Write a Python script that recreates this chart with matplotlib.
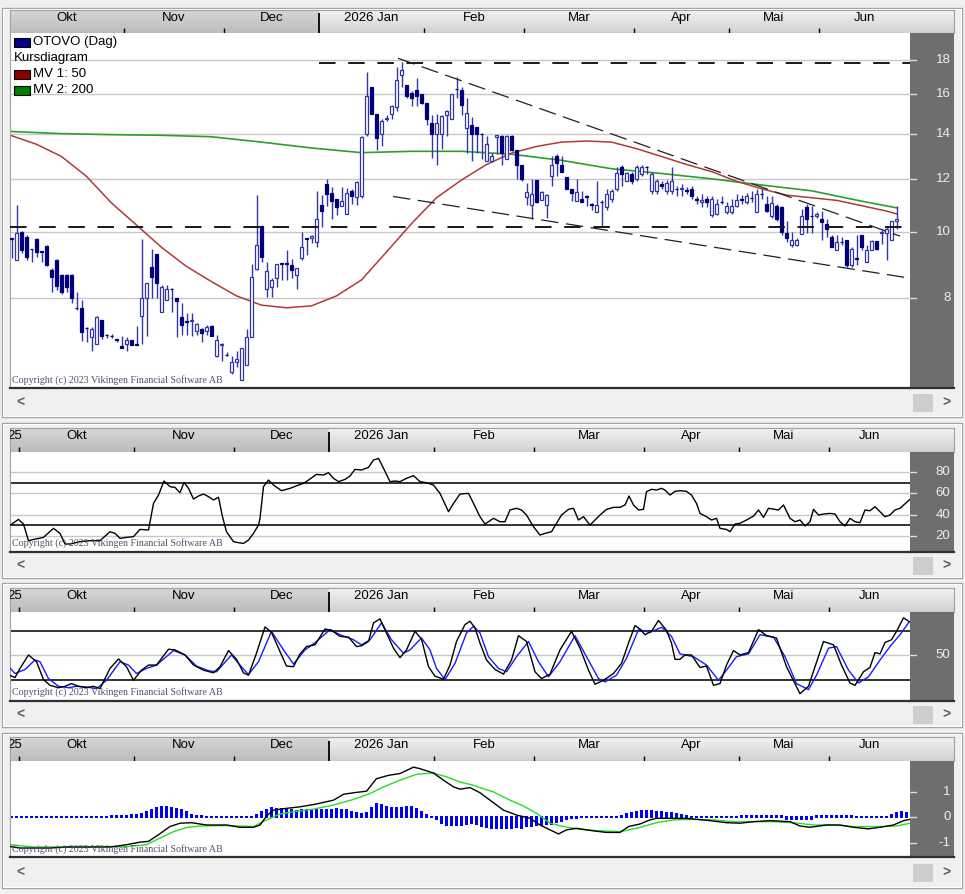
import numpy as np
import matplotlib.pyplot as plt
from matplotlib.patches import Rectangle
from matplotlib.transforms import blended_transform_factory

plt.rcParams['font.family'] = ['Liberation Sans', 'DejaVu Sans']

W, H = 965, 894

# x axis = trading day index, 0 = first trading day of October 2025
months = ["Okt", "Nov", "Dec", "2026 Jan", "Feb", "Mar", "Apr", "Mai", "Jun"]
month_start = [0, 23, 43, 62, 83, 103, 125, 144, 162]
year_start = 62

# ---- OTOVO daily candles ----
opens = [9.80, 9.09, 10.00, 9.84, 9.45, 9.78, 9.37, 9.54, 8.79, 9.11,
         8.65, 8.65, 8.65, 7.73, 7.73, 7.22, 7.00, 6.83, 7.41, 7.05,
         7.03, 6.94, 6.78, 6.83, 6.92, 6.83, 7.52, 8.00, 8.88, 9.28,
         7.63, 7.95, 8.25, 7.98, 7.50, 7.38, 7.38, 7.13, 7.18, 7.13,
         7.27, 6.55, 6.81, 6.59, 6.22, 6.43, 6.05, 6.37, 7.00, 8.81,
         10.22, 8.25, 8.30, 8.55, 9.00, 9.00, 8.94, 8.65, 9.15, 9.80,
         9.80, 9.66, 10.98, 11.80, 11.44, 11.20, 10.95, 10.65, 11.50, 11.26,
         11.30, 13.98, 16.40, 14.97, 14.00, 14.70, 14.97, 15.35, 17.10, 16.50,
         16.10, 16.25, 16.00, 15.55, 14.50, 14.00, 14.00, 14.90, 14.74, 16.30,
         16.25, 14.27, 14.40, 14.30, 14.00, 12.76, 12.76, 13.85, 13.90, 12.85,
         13.90, 13.25, 12.60, 11.26, 10.98, 11.96, 11.18, 10.98, 12.10, 12.95,
         12.60, 12.06, 11.60, 11.14, 11.20, 11.30, 11.00, 10.70, 11.10, 10.90,
         11.20, 11.60, 12.50, 11.90, 12.20, 12.00, 12.20, 12.50, 11.50, 11.50,
         11.80, 11.50, 11.50, 11.60, 11.60, 11.55, 11.60, 11.20, 11.10, 11.20,
         10.60, 10.65, 11.10, 10.70, 10.70, 10.95, 11.20, 11.10, 11.25, 10.70,
         11.40, 11.00, 10.58, 10.95, 10.90, 9.97, 9.57, 9.57, 9.95, 10.89,
         10.58, 10.58, 10.46, 10.28, 9.84, 9.41, 9.68, 9.73, 8.94, 9.15,
         9.90, 9.04, 9.41, 9.71, 9.98, 9.97, 9.73, 10.40]
closes = [9.78, 9.97, 9.41, 9.18, 9.43, 9.36, 9.35, 8.94, 8.59, 8.33,
          8.17, 8.30, 8.00, 7.72, 7.11, 7.21, 7.20, 7.50, 7.03, 7.04,
          7.02, 6.93, 6.75, 6.92, 6.80, 6.82, 8.00, 8.40, 8.60, 8.40,
          8.30, 8.25, 8.24, 7.90, 7.30, 7.37, 7.42, 7.32, 7.09, 7.25,
          7.03, 6.92, 6.84, 6.58, 6.43, 6.49, 6.73, 7.00, 8.60, 9.57,
          9.18, 8.76, 8.50, 8.97, 8.99, 8.99, 8.79, 8.84, 9.50, 9.76,
          9.86, 10.47, 10.76, 11.40, 11.14, 10.90, 11.14, 11.44, 11.30, 11.88,
          13.84, 15.90, 14.97, 13.80, 14.60, 14.76, 15.40, 16.80, 17.40, 15.90,
          15.80, 15.90, 15.55, 14.74, 14.00, 14.50, 14.86, 15.10, 16.00, 16.28,
          15.45, 15.00, 14.00, 14.00, 13.98, 13.50, 12.95, 13.92, 13.10, 13.90,
          13.25, 12.60, 12.00, 11.48, 11.40, 11.07, 11.48, 11.37, 12.60, 12.67,
          12.30, 11.60, 11.45, 11.48, 11.10, 11.28, 10.98, 10.98, 11.08, 11.40,
          11.50, 12.25, 12.20, 12.25, 11.90, 12.50, 12.50, 12.48, 12.20, 11.90,
          11.70, 11.85, 11.90, 11.58, 11.62, 11.53, 11.30, 11.18, 11.15, 11.10,
          11.20, 11.00, 11.08, 10.95, 10.95, 11.15, 11.18, 11.30, 11.23, 11.40,
          11.38, 10.77, 11.05, 10.46, 10.00, 9.80, 9.73, 9.73, 10.58, 10.46,
          10.56, 10.64, 10.34, 10.10, 9.52, 9.68, 9.66, 8.94, 9.46, 9.13,
          9.52, 9.41, 9.71, 9.46, 10.00, 10.12, 10.40, 10.46]
highs = [9.82, 10.98, 10.05, 9.90, 9.46, 9.80, 9.38, 9.56, 8.84, 9.12,
         8.66, 8.68, 8.66, 8.16, 7.95, 7.23, 7.25, 7.52, 7.42, 7.08,
         7.06, 6.96, 7.03, 7.00, 6.93, 7.27, 9.76, 8.40, 9.44, 9.30,
         8.36, 8.36, 8.26, 7.99, 7.87, 7.60, 7.60, 7.35, 7.22, 7.30,
         7.28, 7.05, 6.85, 6.65, 6.55, 6.67, 6.73, 7.18, 8.97, 11.37,
         10.22, 9.03, 8.55, 8.97, 9.01, 9.41, 9.12, 8.84, 10.00, 9.82,
         9.90, 11.52, 11.37, 12.00, 11.68, 11.20, 11.68, 11.64, 11.60, 11.90,
         13.90, 17.26, 16.40, 14.97, 14.74, 14.90, 15.46, 17.60, 17.90, 16.50,
         16.20, 16.90, 16.00, 15.55, 14.90, 14.95, 14.90, 15.15, 16.05, 17.00,
         16.40, 15.80, 14.80, 14.30, 14.05, 13.90, 13.10, 13.95, 13.95, 13.95,
         13.95, 13.25, 12.60, 11.84, 12.00, 11.96, 11.50, 11.40, 12.95, 13.05,
         12.95, 12.06, 11.60, 12.00, 11.50, 11.35, 11.05, 11.90, 11.15, 11.60,
         11.60, 12.50, 12.60, 12.30, 12.30, 12.60, 12.60, 12.55, 12.30, 12.00,
         11.90, 11.95, 12.50, 11.70, 11.80, 11.65, 11.70, 11.30, 11.40, 11.30,
         11.30, 11.20, 11.30, 11.10, 11.20, 11.40, 11.35, 11.45, 11.50, 11.60,
         11.60, 11.30, 11.30, 11.00, 10.95, 10.40, 10.00, 9.80, 10.82, 11.02,
         10.95, 10.70, 10.76, 10.46, 9.90, 9.90, 9.84, 9.73, 9.50, 9.90,
         9.90, 9.57, 9.75, 9.71, 10.07, 10.17, 10.40, 10.95]
lows = [9.15, 9.09, 9.31, 9.09, 9.03, 9.20, 9.03, 8.90, 8.16, 8.22,
        8.10, 8.15, 7.86, 7.68, 6.90, 6.87, 6.67, 6.83, 6.94, 6.98,
        6.98, 6.87, 6.75, 6.67, 6.80, 6.80, 6.83, 7.03, 8.00, 8.00,
        7.63, 7.93, 7.63, 7.00, 7.05, 7.05, 7.02, 7.05, 6.87, 7.05,
        7.03, 6.53, 6.45, 6.55, 6.17, 6.31, 6.05, 6.37, 7.00, 8.80,
        9.03, 8.03, 8.03, 8.30, 8.50, 8.50, 8.55, 8.25, 9.10, 9.25,
        9.65, 9.50, 10.17, 10.95, 10.47, 10.60, 10.95, 10.65, 11.00, 10.98,
        11.25, 13.90, 14.95, 13.25, 13.40, 14.60, 14.74, 15.10, 16.40, 15.80,
        15.40, 15.40, 15.50, 14.40, 12.90, 12.60, 13.30, 13.90, 14.70, 15.80,
        14.90, 13.10, 12.76, 13.10, 12.85, 12.76, 12.70, 13.05, 12.60, 12.85,
        13.20, 12.00, 11.90, 10.98, 10.47, 11.05, 11.15, 10.50, 11.70, 12.10,
        12.30, 11.60, 11.14, 11.14, 11.10, 10.95, 10.80, 10.70, 10.20, 10.80,
        11.10, 11.50, 11.70, 11.90, 11.80, 11.90, 12.10, 12.20, 11.40, 11.40,
        11.60, 11.40, 11.40, 11.30, 11.30, 11.40, 11.20, 11.00, 10.90, 10.90,
        10.55, 10.60, 11.00, 10.65, 10.65, 10.90, 11.00, 11.00, 11.10, 10.70,
        11.20, 10.70, 10.50, 10.40, 9.90, 9.68, 9.52, 9.55, 9.95, 9.97,
        9.97, 10.50, 9.73, 9.84, 9.50, 9.41, 9.57, 8.89, 8.87, 8.94,
        9.41, 9.04, 9.41, 9.40, 9.60, 9.09, 9.73, 10.12]

# moving averages (read every 5 days)
ma50_day = [0, 5, 10, 15, 20, 25, 30, 35, 40, 45, 50, 55, 60, 65, 70, 75, 80, 85,
            90, 95, 100, 105, 110, 115, 120, 125, 130, 135, 140, 145, 150, 155,
            160, 165, 170, 175, 177]
ma50 = [13.9, 13.5, 12.95, 12.1, 11.05, 10.25, 9.5, 8.9, 8.45, 8.05, 7.8, 7.73,
        7.78, 8.05, 8.5, 9.35, 10.3, 11.25, 11.95, 12.6, 13.1, 13.4, 13.6, 13.65,
        13.6, 13.3, 12.95, 12.6, 12.3, 11.9, 11.6, 11.35, 11.25, 11.15, 10.95,
        10.75, 10.65]
ma200_day = [0, 10, 20, 30, 40, 50, 60, 70, 80, 90, 100, 110, 120, 130, 140, 150,
             160, 170, 177]
ma200 = [14.1, 14.0, 13.95, 13.92, 13.85, 13.6, 13.33, 13.12, 13.18, 13.18, 13.05,
         12.78, 12.42, 12.22, 12.0, 11.75, 11.52, 11.12, 10.87]

# drawn trend lines (day, price)
resistance = 17.8
support = 10.18
upper_trend_day, upper_trend = [77.3, 177.7], [18.1, 9.87]
lower_trend_day, lower_trend = [76.3, 179.3], [11.3, 8.56]

# ---- RSI ----
rsi_day = [-2.5, -0.6, 0.4, 1.4, 2.4, 4.4, 6.4, 7.7, 8.7, 9.7, 11.7, 13.7, 15.7, 17.7,
           18.7, 19.7, 21, 22.4, 23.7, 25.4, 26.4, 27.4, 28.5, 29.7, 30.7, 31.7, 32.5,
           33.4, 34.4, 35.4, 36.4, 37.4, 38.4, 39.4, 40.2, 41, 42.4, 43.4, 44.4, 45.4,
           46.4, 47.4, 47.7, 48.4, 49.4, 50.4, 52, 53.7, 55.4, 56.4, 57.4, 59, 60.4,
           61.4, 62.4, 63.4, 64.7, 65.7, 66.7, 68, 69.4, 70.4, 71.4, 72.4, 73.7, 74.7,
           75.7, 77, 78.4, 79.7, 81, 82.4, 83.7, 85.4, 86.4, 87.7, 89.4, 90.4, 91.7,
           92.7, 94.4, 95.7, 96.7, 97.7, 99, 100, 101, 102.4, 103.7, 104.7, 106, 107,
           108, 109.4, 110.4, 111.4, 112.4, 113.7, 114.7, 115.7, 117, 118.4, 119.7,
           120.7, 121.5, 122.4, 123.4, 124.4, 125, 126, 127, 128, 128.7, 129.7, 130.7,
           131.7, 133, 134, 135, 135.7, 137, 138, 139, 139.7, 141, 141.7, 142.7, 143.7,
           145, 146.4, 147.4, 148.4, 149.4, 150.7, 151.4, 152.4, 153.7, 154.7, 155.7,
           156.7, 157.7, 158.4, 159.4, 160.4, 161.7, 162.7, 163.7, 164.7, 165.7, 166.7,
           167.7, 168.7, 169.7, 170.7, 171.7, 172.7, 173.7, 174.7, 175.7, 177.7]
rsi = [29.4, 35.6, 31.2, 15.6, 16.8, 18.7, 27.2, 22.5, 12.5, 12.5, 14.7, 15.6, 15.6, 24,
       22.5, 17.8, 18.7, 19.4, 26.2, 25.6, 50.6, 58.4, 71.6, 66.3, 65.6, 60.6, 70.3,
       64.7, 54.7, 57.5, 59.4, 56.9, 53.8, 56.3, 38.1, 24, 14.7, 13.7, 13.1, 16.2,
       22.5, 30.3, 36.6, 66.3, 72.5, 67.8, 62.5, 64.7, 67.8, 69.4, 72.5, 77.8, 77.2,
       79.4, 74.1, 71, 73.1, 76.3, 82.5, 81.9, 84.4, 91.3, 92.8, 83.5, 71, 71.6,
       71, 74.1, 76.6, 71, 70, 67.8, 60, 42.8, 50.6, 59.4, 60, 50.6, 38.1,
       31.2, 36.6, 33.4, 33.4, 44.4, 46, 44.4, 39.7, 28.7, 20.9, 22.5, 24, 31.9,
       39.7, 45, 46, 35, 38.1, 30.3, 35, 39.7, 45, 46.9, 46.9,
       49.1, 57.5, 49.1, 44.4, 45, 61.6, 63.8, 63.1, 64.7, 63.1, 58.4, 61.9,
       62.5, 61.9, 58.4, 50.6, 41.2, 38.1, 35, 36.6, 27.2, 26.2, 24, 31.2, 31.9,
       35, 38.7, 44.4, 37.5, 46, 45, 44.4, 49.1, 36.6, 33.4, 35,
       29.4, 33.4, 45, 39.7, 40.6, 41.2, 40.6, 33.4, 29.4, 36.6, 33.4,
       32.5, 44.4, 43.7, 47.5, 42.8, 38.1, 39.7, 44.4, 46, 54.4]

# ---- Stochastic ----
stoch_k_day = [-2.4, -1.3, -0.3, 1.4, 3.0, 4.4, 5.7, 7.4, 8.7, 10, 11.4, 13, 14.4, 15.7,
               17.7, 19.4, 21, 22.4, 24, 25.4, 27, 29.4, 30.7, 32.7, 34.4, 36.4, 38.4,
               39.7, 41.4, 43, 44.4, 45.4, 47, 48.7, 50, 51.7, 53, 54.4, 55.7, 57, 58.7,
               60.7, 62, 63.7, 65.4, 67, 68, 69.4, 70.4, 71.7, 73, 74.4, 75.7, 77, 78.7,
               80, 81.4, 82.7, 84.4, 85.7, 87, 88.7, 89.7, 90.7, 91.7, 93, 94.7, 96.4,
               98, 99.4, 101, 102.7, 104, 105.7, 107.7, 110, 111.7, 113.4, 114.7, 116.4,
               118.4, 120, 121.4, 122.7, 123.7, 124.7, 126, 127.4, 129, 130, 130.7,
               131.7, 132.7, 134, 135.7, 137, 138.4, 139.7, 141, 142.4, 143.7, 145.4,
               147.4, 149, 151, 153, 155.7, 157.4, 158.7, 160.4, 162.4, 164, 165.7,
               166.7, 168.4, 169.7, 170.7, 171.7, 172.7, 174, 175, 176.4, 177.7]
stoch_k = [25.6, 22.7, 33.9, 50.4, 42.1, 20.2, 13.2, 10.3, 12, 15.3, 12, 10.3, 12, 9.1,
           33.9, 45.5, 36, 19.4, 31.8, 38, 38, 57.4, 56.6, 50.4, 38, 31.8, 28.5,
           36, 55.8, 45, 28.5, 25.6, 52.5, 84.7, 78.1, 54.5, 36.8, 36, 51.7, 60.7, 62.8,
           82.2, 80.6, 73.1, 72.3, 60.7, 61.6, 66.9, 89.7, 94.6, 77.3, 58.7, 47.1, 56.6, 79.3,
           69.8, 36, 24.4, 20.7, 38, 66.9, 87.6, 91.7, 83.5, 64.9, 44.2, 32.6, 26.9,
           44.2, 74, 66.9, 29.8, 21.5, 26.9, 56.6, 79.3, 58.7, 31.8, 14.5, 19.4,
           27.7, 40.1, 64.9, 86.4, 82.2, 75.2, 79.3, 92.6, 80.6, 64.9, 45,
           45, 50.4, 50.4, 35.1, 36.8, 13.2, 15.3, 38, 55.8, 50.4, 53.3,
           81.4, 74, 71.1, 36, 2.9, 12, 36, 66.9, 62.8, 38, 16.1,
           13.2, 29.8, 35.1, 53.3, 51.7, 65.7, 69, 79.3, 95.9, 90.5]
stoch_d_day = [-2.4, -1.3, 0.7, 2.7, 3.7, 5.4, 7.4, 9.4, 11.0, 13.0, 15.0, 17.0, 19.7,
               21.4, 23.0, 25.0, 27.0, 30.4, 32.7, 35.0, 37.4, 39.0, 42.0, 43.7, 45.4,
               47.4, 50.0, 52.4, 54.4, 56.7, 59.0, 61.7, 63.7, 66.4, 68.0, 69.7, 72.0,
               74.0, 76.4, 77.7, 80.0, 81.7, 83.0, 84.7, 86.7, 89.0, 90.4, 91.7, 93.4,
               95.4, 97.0, 99.0, 101.4, 103.4, 105.4, 107.7, 110.7, 113.0, 115.4, 116.7,
               119.0, 121.0, 123.4, 125.7, 128.0, 130.0, 131.7, 134.4, 137.0, 139.4,
               141.0, 143.0, 145.4, 147.7, 150.4, 152.7, 155.0, 157.4, 159.0, 161.4,
               163.0, 165.4, 167.4, 169.4, 171.7, 173.7, 175.7, 177.4]
stoch_d = [35.1, 27.7, 32.6, 44.2, 42.1, 21.5, 12, 10.3, 12, 11.2, 9.1, 19.4, 42.1,
           38, 27.7, 33.9, 38, 55.8, 50.4, 36.8, 31, 29.8, 50.4, 38, 26.4,
           42.1, 79.3, 56.6, 39.3, 56.6, 66.9, 81.4, 75.2, 69, 62.8, 69, 89.7,
           69, 52.5, 56.6, 71.1, 56.6, 33.9, 20.2, 40.1, 77.3, 85.5, 77.3, 48.3,
           33.9, 29.8, 48.3, 66.9, 42.1, 23.6, 42.1, 74, 48.3, 21.5, 17.4,
           25.6, 46.3, 81.4, 78.1, 84.3, 73.1, 51.7, 48.3, 38, 19.4,
           31.8, 48.3, 51.7, 75.2, 72.3, 48.3, 15.3, 7.9, 25.6, 58.7,
           60.7, 31.8, 16.1, 23.6, 44.2, 60.7, 75.2, 89.7]

# ---- MACD ----
macd_day = [-2.3, -0.3, 2.4, 5.7, 9, 13, 17.7, 21, 23.7, 25.4, 27.4, 29.7, 31.7, 34, 37,
            41, 43.7, 46.4, 47.7, 49, 50.4, 53, 55.7, 59, 62.4, 64.4, 66.4, 69, 71, 73.4,
            75.7, 78.4, 79.7, 82.4, 84.4, 86.4, 87.7, 89.7, 91.7, 93.7, 96.4, 99, 101.7,
            103.7, 105.7, 107.4, 109, 111, 114.4, 117, 119.7, 121.4, 123.7, 125.7, 127,
            130.4, 133, 137.7, 141, 143.7, 146.4, 149.7, 153.7, 155.7, 157.7, 161, 163.7,
            166.4, 169.4, 171.7, 174.4, 176.4, 177.7]
macd = [-1.14, -1.2, -1.2, -1.2, -1.16, -1.16, -1.16, -1.07, -0.97, -0.94, -0.68, -0.36,
        -0.23, -0.21, -0.3, -0.3, -0.39, -0.39, -0.3, 0.05, 0.28, 0.35, 0.41, 0.52, 0.67,
        0.9, 0.96, 1.02, 1.51, 1.64, 1.71, 1.96, 1.9, 1.73, 1.45, 1.19, 1.1, 1.16, 0.96,
        0.67, 0.28, 0.09, -0.04, -0.3, -0.49, -0.65, -0.49, -0.43, -0.53, -0.59, -0.59,
        -0.36, -0.26, -0.1, -0.04, -0.04, -0.04, -0.13, -0.21, -0.23, -0.17, -0.13, -0.17,
        -0.34, -0.39, -0.3, -0.3, -0.39, -0.45, -0.39, -0.3, -0.13, -0.08]
signal_day = [-2.3, 2.4, 9.0, 15.7, 21.0, 25.0, 27.7, 30.4, 33.0, 35.7, 41.0, 46.4, 49.0,
              51.7, 54.4, 58.4, 62.4, 66.4, 69.7, 72.4, 75.7, 79.0, 82.4, 85.0, 87.7, 90.4,
              91.7, 94.4, 97.7, 100.4, 103.0, 105.7, 108.4, 111.7, 115.0, 119.7, 123.0,
              127.0, 130.4, 134.4, 138.4, 142.4, 146.4, 150.4, 154.4, 158.4, 162.4, 166.4,
              171.7, 175.0, 177.7]
signal = [-1.07, -1.16, -1.16, -1.14, -1.14, -1.07, -0.81, -0.56, -0.4, -0.34, -0.32, -0.36,
          -0.1, 0.13, 0.22, 0.32, 0.48, 0.7, 0.93, 1.19, 1.45, 1.68, 1.73, 1.58, 1.38, 1.25,
          1.16, 0.99, 0.67, 0.44, 0.16, -0.23, -0.36, -0.47, -0.52, -0.56, -0.43,
          -0.21, -0.1, -0.08, -0.1, -0.17, -0.17, -0.17, -0.21, -0.3, -0.3, -0.36,
          -0.36, -0.34, -0.23]
# histogram, one bar per day from day -2 to 177
macd_hist = [0.02, 0.02,
             0.01, 0.0, 0.0, 0.01, 0.01, 0.02, 0.02, 0.02, 0.02, 0.03,
             0.03, 0.03, 0.03, 0.03, 0.03, 0.03, 0.03, 0.03, 0.05, 0.05,
             0.05, 0.06, 0.08, 0.10, 0.12, 0.20, 0.30, 0.38, 0.40, 0.40,
             0.38, 0.32, 0.28, 0.20, 0.10, 0.05, 0.04, 0.03, 0.02, 0.02,
             0.02, 0.02, 0.02, 0.02, 0.02, 0.02, 0.03, 0.08, 0.20, 0.30,
             0.35, 0.33, 0.32, 0.30, 0.28, 0.25, 0.30, 0.30, 0.30, 0.28,
             0.30, 0.30, 0.30, 0.32, 0.30, 0.28, 0.22, 0.15, 0.12, 0.15,
             0.35, 0.50, 0.48, 0.42, 0.38, 0.38, 0.38, 0.40, 0.42, 0.33,
             0.20, 0.10, 0.00, -0.08, -0.22, -0.30, -0.30, -0.30, -0.28, -0.25,
             -0.22, -0.27, -0.33, -0.38, -0.40, -0.40, -0.42, -0.40, -0.40, -0.38,
             -0.40, -0.35, -0.35, -0.30, -0.30, -0.25, -0.25, -0.20, -0.15, -0.05,
             -0.03, -0.02, 0.02, 0.02, 0.02, 0.02, 0.02, 0.02, 0.02, 0.03,
             0.05, 0.12, 0.18, 0.22, 0.25, 0.25, 0.25, 0.22, 0.20, 0.18,
             0.15, 0.12, 0.08, 0.05, 0.02, 0.02, 0.02, 0.02, 0.02, 0.02,
             0.02, 0.02, 0.02, 0.02, 0.05, 0.05, 0.05, 0.05, 0.05, 0.05,
             0.05, 0.05, 0.05, -0.05, -0.05, -0.05, -0.05, -0.05, -0.05, 0.04,
             0.04, 0.04, 0.04, 0.04, 0.04, 0.04, 0.04, 0.03, 0.03, 0.03,
             0.03, 0.03, 0.03, 0.03, 0.08, 0.15, 0.20, 0.18]

price_ticks = [8, 10, 12, 14, 16, 18]
rsi_ticks = [20, 40, 60, 80]
COPYRIGHT = "Copyright (c) 2023 Vikingen Financial Software AB"

# ------------------------------------------------------------------
fig = plt.figure(figsize=(W / 100, H / 100), dpi=100)
fig.patch.set_facecolor('#f0f0f0')


def px_axes(x0, y0, x1, y1, **kw):
    return fig.add_axes([x0 / W, 1 - y1 / H, (x1 - x0) / W, (y1 - y0) / H], **kw)


bg = px_axes(0, 0, W, H)
bg.set_xlim(0, W)
bg.set_ylim(H, 0)
bg.axis('off')

PLOT_L, PLOT_R, AXIS_R = 10, 910, 954
DAY_PX = 5


def gradient(top, bottom, n=24):
    t = np.linspace(0, 1, n)[:, None, None]
    top = np.array(top)[None, None, :]
    bottom = np.array(bottom)[None, None, :]
    return top + (bottom - top) * t


def make_panel(top, head_t, head_b, plot_b, bottom, day0_px, lead=None):
    # frame and scroll row
    bg.add_patch(Rectangle((2, top), 960, bottom - top, fill=False, ec='#a0a0a0', lw=1))
    bg.add_patch(Rectangle((3, top + 1), 958, bottom - top - 2, fill=False, ec='#ffffff', lw=0.8))
    sy = (plot_b + bottom) / 2 + 0.5
    bg.add_patch(Rectangle((913, sy - 9), 20, 18, fc='#cdcdcd', ec='none'))
    bg.text(20, sy, "<", ha='center', va='center', fontsize=10, fontweight='bold', color='#606060')
    bg.text(946, sy, ">", ha='center', va='center', fontsize=10, fontweight='bold', color='#606060')

    xl = (PLOT_L - day0_px) / DAY_PX
    xr = (PLOT_R - day0_px) / DAY_PX
    xh = (AXIS_R - day0_px) / DAY_PX

    # month header
    hx = px_axes(PLOT_L, head_t, AXIS_R, head_b)
    ys = year_start - 0.5
    hx.imshow(gradient((0.84, 0.84, 0.84), (0.74, 0.74, 0.74)), extent=[xl, ys, 0, 1],
              aspect='auto', interpolation='bilinear')
    hx.imshow(gradient((0.95, 0.95, 0.95), (0.82, 0.82, 0.82)), extent=[ys, xh, 0, 1],
              aspect='auto', interpolation='bilinear')
    hx.set_xlim(xl, xh)
    hx.set_ylim(0, 1)
    hx.set_xticks([])
    hx.set_yticks([])
    for sp in hx.spines.values():
        sp.set_color('#a0a0a0')
    bounds = [s - 0.5 for s in month_start] + [1e9]
    for i, name in enumerate(months):
        a, b = max(bounds[i], xl), min(bounds[i + 1], xr)
        hx.text((a + b) / 2, 0.66, name, ha='center', va='center', fontsize=9.5)
    if lead:
        hx.text((xl + bounds[0]) / 2, 0.66, lead, ha='center', va='center', fontsize=9.5,
                clip_on=True)
    ticks = [b for b in bounds[:-1] if xl < b < xr and b != ys]
    hx.vlines(ticks, 0, 0.2, color='k', lw=1)
    hx.vlines([ys], 0, 0.85, color='k', lw=1.3)

    ax = px_axes(PLOT_L, head_b, PLOT_R, plot_b)
    ax.set_xlim(xl, xr)
    ax.tick_params(which='both', left=False, bottom=False, labelleft=False, labelbottom=False)
    ax.spines['top'].set_visible(False)
    ax.spines['right'].set_visible(False)
    ax.spines['left'].set_color('#a0a0a0')
    ax.spines['bottom'].set_color('#303030')
    ax.spines['bottom'].set_linewidth(1.6)

    gx = px_axes(PLOT_R, head_b, AXIS_R, plot_b, sharey=ax)
    gx.set_facecolor('#6e6e6e')
    gx.set_xlim(0, 1)
    gx.tick_params(which='both', left=False, bottom=False, labelleft=False, labelbottom=False)
    for sp in gx.spines.values():
        sp.set_visible(False)
    gx.spines['bottom'].set_visible(True)
    gx.spines['bottom'].set_color('#303030')
    gx.spines['bottom'].set_linewidth(1.6)
    return ax, gx


def right_ticks(gx, values, labels=None):
    tr = blended_transform_factory(gx.transAxes, gx.transData)
    for i, v in enumerate(values):
        lab = labels[i] if labels else str(v)
        gx.axhline(v, 0, 0.13, color='#dcdcdc', lw=1)
        gx.text(0.92, v, lab, transform=tr, ha='right', va='center', fontsize=9.5,
                color='#eeeeee')


def copyright(ax, head_b, plot_b, y):
    ax.text(0.002, (plot_b - y) / (plot_b - head_b), COPYRIGHT, transform=ax.transAxes,
            family=['Liberation Serif', 'DejaVu Serif'], fontsize=7.2, color='#50506a',
            va='center', ha='left', zorder=10)


# ---------------- price panel ----------------
ax1, g1 = make_panel(8, 10, 33, 388, 417, 11.5)
ax1.set_yscale('log')
ax1.set_ylim(5.88, 19.73)
for v in price_ticks:
    ax1.axhline(v, color='#c8c8c8', lw=1, zorder=0)
right_ticks(g1, price_ticks)

ax1.plot(ma200_day, ma200, color='#2ca02c', lw=1.2, zorder=2)
ax1.plot(ma50_day, ma50, color='#b03a3a', lw=1.1, zorder=2)

o, hi, lo, c = (np.array(a) for a in (opens, highs, lows, closes))
d = np.arange(len(c))
up = c >= o
b_lo = np.minimum(o, c)
b_h = np.maximum(np.abs(c - o), 0.01)
ax1.vlines(d, lo, hi, color='#3434a4', lw=1, zorder=3)
ax1.bar(d[up], b_h[up], bottom=b_lo[up], width=0.72, facecolor='white',
        edgecolor='#3434a4', lw=0.9, zorder=4)
ax1.bar(d[~up], b_h[~up], bottom=b_lo[~up], width=0.72, facecolor='#00007c',
        edgecolor='#00007c', lw=0.9, zorder=4)

ax1.axhline(support, color='#181818', lw=1.4, ls=(0, (8.5, 6.5)), zorder=5)
ax1.plot([year_start - 0.6, 179.7], [resistance, resistance], color='#181818', lw=1.4,
         ls=(0, (8.5, 6.5)), zorder=5)
ax1.plot(upper_trend_day, upper_trend, color='#202020', lw=0.9, ls=(0, (14, 6)), zorder=5)
ax1.plot(lower_trend_day, lower_trend, color='#202020', lw=0.9, ls=(0, (14, 6)), zorder=5)
copyright(ax1, 33, 388, 380)

# ---------------- RSI panel ----------------
ax2, g2 = make_panel(423, 428, 452, 552, 578, 21.5, lead="25")
ax2.set_ylim(5, 98.8)
for v in rsi_ticks:
    ax2.axhline(v, color='#c8c8c8', lw=1, zorder=0)
for v in (30, 70):
    ax2.axhline(v, color='#101010', lw=1.2, zorder=1)
right_ticks(g2, rsi_ticks)
ax2.plot(rsi_day, rsi, color='k', lw=1, zorder=3)
copyright(ax2, 452, 552, 543)

# ---------------- Stochastic panel ----------------
ax3, g3 = make_panel(583, 588, 612, 701, 727, 21.5, lead="25")
ax3.set_ylim(-6, 103)
ax3.axhline(50, color='#c8c8c8', lw=1, zorder=0)
for v in (20, 80):
    ax3.axhline(v, color='#101010', lw=1.2, zorder=1)
right_ticks(g3, [50])
ax3.plot(stoch_d_day, stoch_d, color='#1a1aff', lw=1, zorder=3)
ax3.plot(stoch_k_day, stoch_k, color='k', lw=1, zorder=4)
copyright(ax3, 612, 701, 692)

# ---------------- MACD panel ----------------
ax4, g4 = make_panel(733, 737, 761, 857, 888, 21.5, lead="25")
ax4.set_ylim(-1.55, 2.2)
right_ticks(g4, [1, 0, -1])
hv = np.array(macd_hist)
hd = np.arange(len(hv)) - 2
pad = 0.04
ax4.bar(hd, np.abs(hv) + 2 * pad, bottom=np.minimum(hv, 0) - pad, width=0.42,
        color='#0000ff', zorder=2)
ax4.plot(signal_day, signal, color='#22e022', lw=1, zorder=3)
ax4.plot(macd_day, macd, color='k', lw=1, zorder=4)
copyright(ax4, 761, 857, 849)

# ---------------- legend (top left of price panel) ----------------
fg = px_axes(0, 0, W, H)
fg.set_xlim(0, W)
fg.set_ylim(H, 0)
fg.axis('off')
fg.patch.set_alpha(0)
legend = [("OTOVO (Dag)", '#00008b', 42), ("Kursdiagram", None, 58),
          ("MV 1: 50", '#8b0000', 74), ("MV 2: 200", '#008000', 90)]
for text, col, y in legend:
    if col:
        fg.add_patch(Rectangle((14, y - 4.5), 16, 9, fc=col, ec='black', lw=0.8))
        fg.text(33, y, text, va='center', ha='left', fontsize=9.5)
    else:
        fg.text(14, y, text, va='center', ha='left', fontsize=9.5)

fig.savefig('out.png', dpi=100, facecolor=fig.get_facecolor())
